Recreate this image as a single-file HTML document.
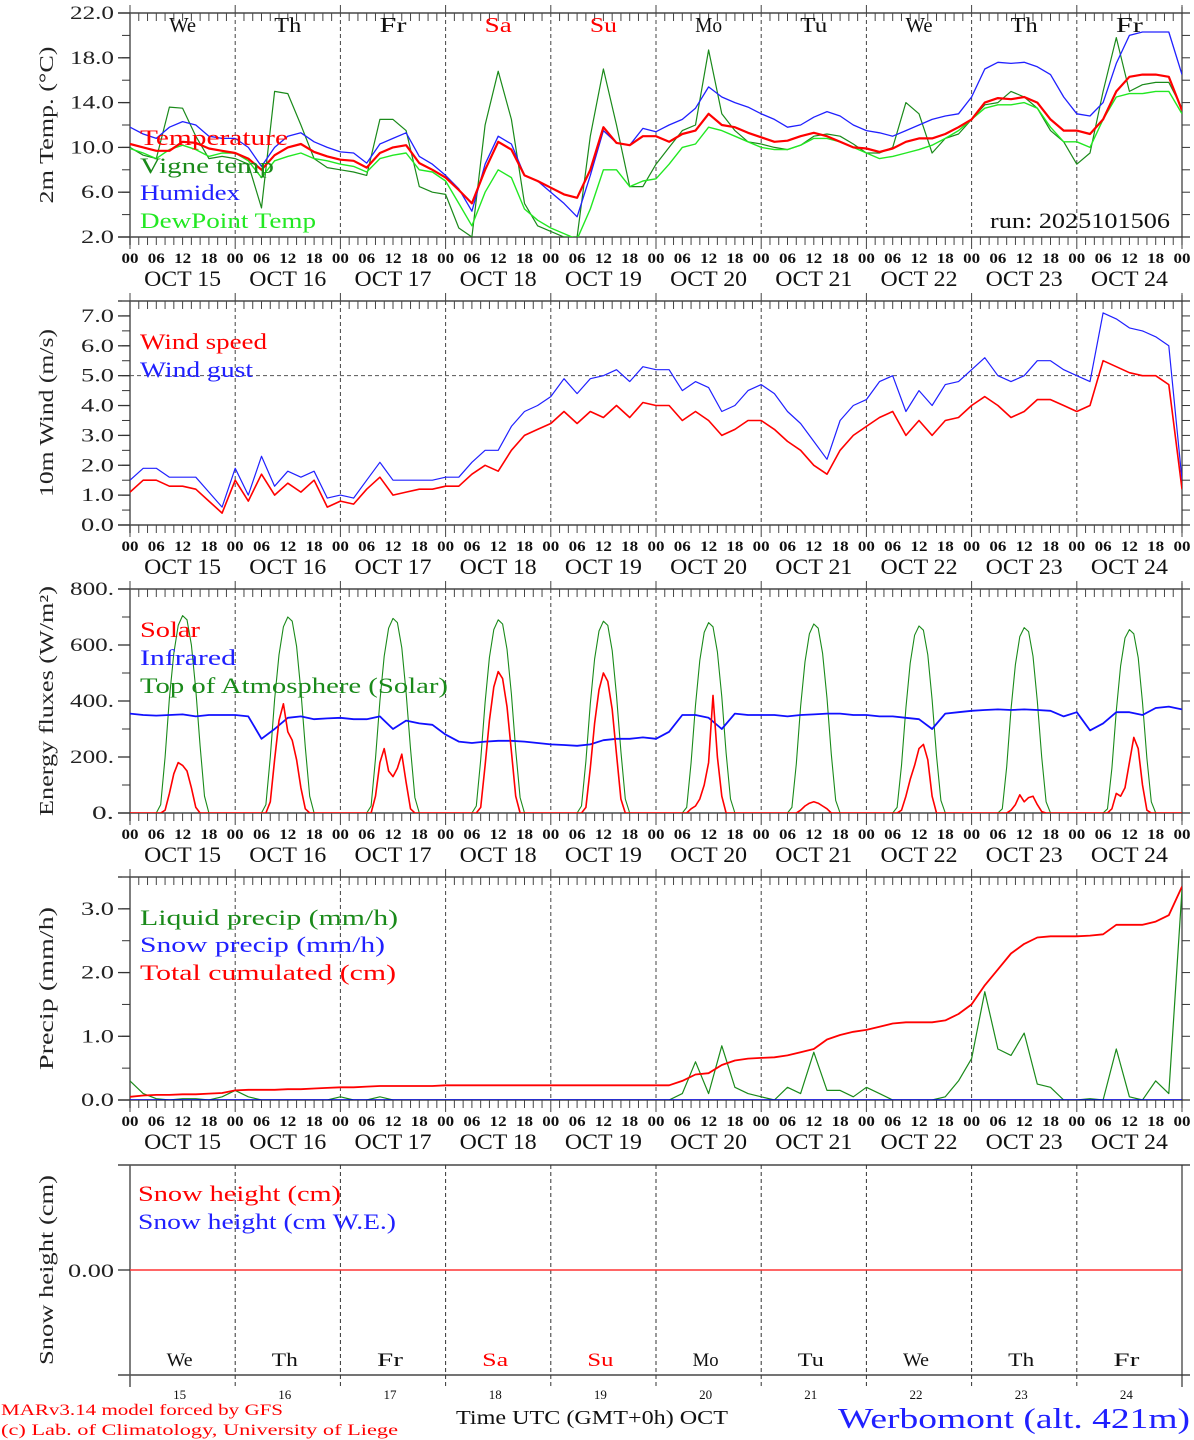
<!DOCTYPE html>
<html><head><meta charset="utf-8"><style>
html,body{margin:0;padding:0;background:#fff;}
svg{display:block;}
text{font-family:"Liberation Serif",serif;}
</style></head><body>
<svg id="chart" width="1194" height="1440" viewBox="0 0 1194 1440" xmlns="http://www.w3.org/2000/svg">
<defs>
<clipPath id="c1"><rect x="130" y="13" width="1052" height="224"/></clipPath>
<clipPath id="c2"><rect x="130" y="301" width="1052" height="224"/></clipPath>
<clipPath id="c3"><rect x="130" y="589" width="1052" height="224"/></clipPath>
<clipPath id="c4"><rect x="130" y="877" width="1052" height="223"/></clipPath>
</defs>
<g id="axes"></g>
<g id="marks"></g>
<g id="texts"></g>
</svg>
<script>
// ---- data (3-hourly from Oct 15 00 UTC, 81 points) ----
const days = ["15","16","17","18","19","20","21","22","23","24"];
const dayNames = ["We","Th","Fr","Sa","Su","Mo","Tu","We","Th","Fr"];
const temperature = [10.3,10.0,9.7,9.7,10.5,10.4,9.9,9.7, 9.5,9.0,8.0,9.3,10.0,10.3,9.6,9.2, 8.9,8.8,8.2,9.5,10.0,10.2,8.6,8.0, 7.3,6.2,5.0,8.0,10.5,9.8,7.5,7.0, 6.4,5.8,5.5,8.0,11.8,10.4,10.2,11.0, 11.0,10.5,11.2,11.5,13.0,12.0,11.8,11.3, 10.9,10.5,10.6,11.0,11.3,11.0,10.5,10.0, 9.9,9.6,9.9,10.5,10.8,10.8,11.2,11.8, 12.5,14.0,14.4,14.3,14.5,14.0,12.5,11.5, 11.5,11.2,12.5,15.0,16.3,16.5,16.5,16.3,13.3];
const vigneTemp = [10.0,9.3,9.0,13.6,13.5,11.0,9.0,9.2, 9.0,8.5,4.6,15.0,14.8,12.0,9.0,8.2, 8.0,7.8,7.5,12.5,12.5,11.5,6.5,6.0, 5.8,2.8,2.0,12.0,16.8,12.5,5.0,3.0, 2.5,2.0,2.0,11.0,17.0,12.0,6.5,6.5, 8.5,10.0,11.5,12.0,18.7,13.0,11.5,10.5, 10.3,10.0,9.8,10.2,11.0,11.2,11.0,10.3, 9.5,9.5,10.0,14.0,13.0,9.5,10.8,11.2, 12.5,13.8,14.0,15.0,14.5,13.5,11.5,10.5, 8.5,9.5,15.0,19.8,15.0,15.6,15.8,15.8,13.5];
const humidex = [11.8,11.2,10.8,11.8,12.3,12.0,11.0,10.8, 10.8,10.0,8.3,10.0,11.0,11.3,10.5,10.0, 9.6,9.5,8.6,10.3,10.8,11.3,9.2,8.5, 7.5,6.3,4.3,8.5,11.0,10.3,7.5,7.0, 6.0,5.0,3.8,7.5,11.5,10.4,10.2,11.7, 11.4,12.0,12.5,13.5,15.4,14.5,14.0,13.6, 13.0,12.5,11.8,12.0,12.7,13.2,12.8,12.0, 11.5,11.3,11.0,11.5,12.0,12.5,12.8,13.0, 14.5,17.0,17.6,17.5,17.6,17.2,16.5,14.5, 13.0,12.8,14.0,17.5,20.0,20.3,20.3,20.3,16.5];
const dewPoint = [9.9,9.5,9.0,9.8,10.2,9.8,9.2,9.5, 9.5,8.8,7.3,8.8,9.2,9.5,9.0,8.8, 8.5,8.3,7.8,9.0,9.3,9.5,8.0,7.8, 7.0,5.0,3.0,6.0,8.0,7.3,4.5,3.5, 2.8,2.3,1.8,4.5,8.0,8.0,6.5,7.0, 7.2,8.5,10.0,10.3,11.8,11.5,11.0,10.5, 10.0,9.8,9.8,10.2,10.8,10.8,10.5,10.0, 9.5,9.0,9.2,9.5,9.8,10.2,10.8,11.5, 12.5,13.5,13.8,13.8,14.0,13.5,11.8,10.5, 10.5,10.0,12.5,14.5,14.8,14.8,15.0,15.0,13.0];
const windSpeed = [1.1,1.5,1.5,1.3,1.3,1.2,0.8,0.4, 1.5,0.8,1.7,1.0,1.4,1.1,1.5,0.6, 0.8,0.7,1.2,1.6,1.0,1.1,1.2,1.2, 1.3,1.3,1.7,2.0,1.8,2.5,3.0,3.2, 3.4,3.8,3.4,3.8,3.6,4.0,3.6,4.1, 4.0,4.0,3.5,3.8,3.5,3.0,3.2,3.5, 3.5,3.2,2.8,2.5,2.0,1.7,2.5,3.0, 3.3,3.6,3.8,3.0,3.5,3.0,3.5,3.6, 4.0,4.3,4.0,3.6,3.8,4.2,4.2,4.0, 3.8,4.0,5.5,5.3,5.1,5.0,5.0,4.7,1.2];
const windGust = [1.5,1.9,1.9,1.6,1.6,1.6,1.1,0.6, 1.9,1.0,2.3,1.3,1.8,1.6,1.8,0.9, 1.0,0.9,1.5,2.1,1.5,1.5,1.5,1.5, 1.6,1.6,2.1,2.5,2.5,3.3,3.8,4.0, 4.3,4.9,4.4,4.9,5.0,5.2,4.8,5.3, 5.2,5.2,4.5,4.8,4.6,3.8,4.0,4.5, 4.7,4.4,3.8,3.4,2.8,2.2,3.5,4.0, 4.2,4.8,5.0,3.8,4.5,4.0,4.7,4.8, 5.2,5.6,5.0,4.8,5.0,5.5,5.5,5.2, 5.0,4.8,7.1,6.9,6.6,6.5,6.3,6.0,1.5];
const infrared = [355,350,348,350,352,345,350,350, 350,345,265,300,340,345,335,338, 340,335,335,345,300,330,320,315, 280,255,250,255,258,258,255,250, 245,243,240,245,260,265,265,270, 265,290,350,350,340,300,355,350, 350,350,345,350,352,355,355,350, 350,345,345,340,335,300,355,360, 365,368,370,368,370,368,365,345, 360,295,320,360,360,350,375,380,370];
const liquidPrecip = [0.3,0.1,0.02,0,0.02,0.02,0,0.05, 0.15,0.05,0,0,0,0,0,0, 0.05,0,0,0.05,0,0,0,0, 0,0,0,0,0,0,0,0, 0,0,0,0,0,0,0,0, 0,0,0.1,0.6,0.1,0.85,0.2,0.1, 0.05,0,0.2,0.1,0.75,0.15,0.15,0.05, 0.2,0.1,0,0,0,0,0.05,0.3, 0.65,1.7,0.8,0.7,1.05,0.25,0.2,0, 0,0.02,0,0.8,0.05,0,0.3,0.1,3.3];
const snowPrecip = [0,0,0,0,0,0,0,0,0,0,0,0,0,0,0,0,0,0,0,0,0,0,0,0,0,0,0,0,0,0,0,0,0,0,0,0,0,0,0,0,0,0,0,0,0,0,0,0,0,0,0,0,0,0,0,0,0,0,0,0,0,0,0,0,0,0,0,0,0,0,0,0,0,0,0,0,0,0,0,0,0];
const totalCumulated = [0.05,0.07,0.08,0.08,0.09,0.09,0.1,0.11, 0.15,0.16,0.16,0.16,0.17,0.17,0.18,0.19, 0.2,0.2,0.21,0.22,0.22,0.22,0.22,0.22, 0.23,0.23,0.23,0.23,0.23,0.23,0.23,0.23, 0.23,0.23,0.23,0.23,0.23,0.23,0.23,0.23, 0.23,0.23,0.3,0.4,0.42,0.55,0.62,0.65, 0.66,0.67,0.7,0.75,0.8,0.95,1.02,1.07, 1.1,1.15,1.2,1.22,1.22,1.22,1.25,1.35, 1.5,1.8,2.05,2.3,2.45,2.55,2.57,2.57, 2.57,2.58,2.6,2.75,2.75,2.75,2.8,2.9,3.35];
const snowHeight = [0,0,0,0,0,0,0,0,0,0,0,0,0,0,0,0,0,0,0,0,0,0,0,0,0,0,0,0,0,0,0,0,0,0,0,0,0,0,0,0,0,0,0,0,0,0,0,0,0,0,0,0,0,0,0,0,0,0,0,0,0,0,0,0,0,0,0,0,0,0,0,0,0,0,0,0,0,0,0,0,0];
// hourly fluxes (one row per day, 24 values)
const toaSolar = [
[0,0,0,0,0,0,0,30,200,410,570,670,705,690,600,440,240,60,0,0,0,0,0,0],
[0,0,0,0,0,0,0,30,200,405,565,665,700,685,595,435,235,60,0,0,0,0,0,0],
[0,0,0,0,0,0,0,25,195,400,560,660,695,680,590,430,230,55,0,0,0,0,0,0],
[0,0,0,0,0,0,0,25,190,395,555,655,690,675,585,425,225,55,0,0,0,0,0,0],
[0,0,0,0,0,0,0,25,185,390,550,650,685,670,580,420,220,50,0,0,0,0,0,0],
[0,0,0,0,0,0,0,20,180,385,545,645,680,665,575,415,215,50,0,0,0,0,0,0],
[0,0,0,0,0,0,0,20,175,380,540,640,675,660,570,410,210,45,0,0,0,0,0,0],
[0,0,0,0,0,0,0,20,170,375,535,635,668,653,565,405,205,45,0,0,0,0,0,0],
[0,0,0,0,0,0,0,15,165,370,530,630,662,648,560,400,200,40,0,0,0,0,0,0],
[0,0,0,0,0,0,0,15,160,365,525,625,655,640,555,395,195,40,0,0,0,0,0,0]];
const solar = [
[0,0,0,0,0,0,0,0,10,70,140,180,170,150,90,20,0,0,0,0,0,0,0,0],
[0,0,0,0,0,0,0,0,40,190,330,390,290,260,190,90,15,0,0,0,0,0,0,0],
[0,0,0,0,0,0,0,0,60,180,230,150,130,160,210,110,15,0,0,0,0,0,0,0],
[0,0,0,0,0,0,0,0,20,170,330,450,505,480,380,220,60,0,0,0,0,0,0,0],
[0,0,0,0,0,0,0,0,20,160,320,440,500,470,370,210,50,0,0,0,0,0,0,0],
[0,0,0,0,0,0,0,0,15,25,50,100,180,420,200,60,0,0,0,0,0,0,0,0],
[0,0,0,0,0,0,0,0,0,10,25,35,40,35,25,15,0,0,0,0,0,0,0,0],
[0,0,0,0,0,0,0,0,10,60,120,170,230,245,190,60,0,0,0,0,0,0,0,0],
[0,0,0,0,0,0,0,0,0,10,30,65,40,55,60,30,5,0,0,0,0,0,0,0],
[0,0,0,0,0,0,0,0,15,70,60,90,180,270,230,100,10,0,0,0,0,0,0,0]];
// ---- helpers ----
const NS="http://www.w3.org/2000/svg";
const X0=130, X1=1182, HOURS=240;
function xh(h){return X0+h*(X1-X0)/HOURS;}
function mk(tag,attrs,parent){const e=document.createElementNS(NS,tag);for(const k in attrs)e.setAttribute(k,attrs[k]);parent.appendChild(e);return e;}
const axes=document.getElementById('axes'), marks=document.getElementById('marks'), texts=document.getElementById('texts');
function txt(s,x,y,size,fill,parent,extra){const t=mk('text',Object.assign({x:x,y:y,'font-size':size,fill:fill},extra||{}),parent);t.textContent=s;return t;}
function ymap(top,bot,vmin,vmax){return v=>bot-(v-vmin)*(bot-top)/(vmax-vmin);}
const FIT={lengthAdjust:'spacingAndGlyphs'};

const panels=[
 {top:13,bot:237,min:2,max:22,major:[2,6,10,14,18,22],minor:2,fmt:v=>v.toFixed(1),title:"2m Temp. (\u00B0C)",tlen:157,clip:"c1",name:"temperature-panel"},
 {top:301,bot:525,min:0,max:7.5,major:[0,1,2,3,4,5,6,7],minor:0.5,fmt:v=>v.toFixed(1),title:"10m Wind (m/s)",tlen:168,clip:"c2",name:"wind-panel"},
 {top:589,bot:813,min:0,max:800,major:[0,200,400,600,800],minor:100,fmt:v=>v.toFixed(0)+".",title:"Energy fluxes (W/m\u00B2)",tlen:230,clip:"c3",name:"energy-panel"},
 {top:877,bot:1100,min:0,max:3.5,major:[0,1,2,3],minor:0.5,fmt:v=>v.toFixed(1),title:"Precip (mm/h)",tlen:163,clip:"c4",name:"precip-panel"}
];
panels.forEach((p,pi)=>{
  const g=mk('g',{},axes);
  
  
  const y=ymap(p.top,p.bot,p.min,p.max);
  mk('line',{x1:118,y1:p.top,x2:X1+8,y2:p.top,stroke:'#222','stroke-width':1.3},g);
  mk('line',{x1:118,y1:p.bot,x2:X1+8,y2:p.bot,stroke:'#222','stroke-width':1.3},g);
  mk('line',{x1:X0,y1:p.top,x2:X0,y2:p.bot+8,stroke:'#555','stroke-width':1.5},g);
  mk('line',{x1:X1,y1:p.top-6,x2:X1,y2:p.bot+8,stroke:'#333','stroke-width':1.2},g);
  for(let h=0;h<=HOURS;h+=2){
    const x=xh(h), big=h%24===0;
    mk('line',{x1:x,y1:p.top,x2:x,y2:p.top+(big?-8:8),stroke:'#444','stroke-width':1},g);
    mk('line',{x1:x,y1:p.bot,x2:x,y2:p.bot+(big?12:8),stroke:'#444','stroke-width':1},g);
    if(big&&h>0&&h<HOURS) mk('line',{x1:x,y1:p.top,x2:x,y2:p.bot,stroke:'#444','stroke-width':1,'stroke-dasharray':'4,3'},g);
  }
  for(let v=p.min;v<=p.max+1e-9;v+=p.minor){
    mk('line',{x1:122,y1:y(v),x2:X0,y2:y(v),stroke:'#333','stroke-width':1},g);
    mk('line',{x1:X1,y1:y(v),x2:X1+8,y2:y(v),stroke:'#333','stroke-width':1},g);
  }
  p.major.forEach(v=>{
    mk('line',{x1:118,y1:y(v),x2:X0,y2:y(v),stroke:'#333','stroke-width':1.3},g);
    const s=p.fmt(v);
    const t=txt(s,114,y(v)+6,19,'#222',texts,Object.assign({'text-anchor':'end',textLength:s.length*11},FIT));
    
    
  });
  const mid=(p.top+p.bot)/2;
  const tt=txt(p.title,0,0,20,'#222',texts,Object.assign({'text-anchor':'middle',transform:`translate(53,${mid}) rotate(-90)`,textLength:p.tlen},FIT));
  
  
  for(let d=0;d<10;d++){
    [0,6,12,18].forEach(hh=>{
      const l=txt(String(hh).padStart(2,'0'),xh(d*24+hh),p.bot+26,15,'#111',texts,Object.assign({'text-anchor':'middle','font-weight':'bold',textLength:17},FIT));
      
      
    });
    const dl=txt("OCT "+days[d],xh(d*24+12),p.bot+49,22,'#111',texts,Object.assign({'text-anchor':'middle',textLength:77},FIT));
    
    
  }
  const l0=txt("00",xh(240),p.bot+26,15,'#111',texts,Object.assign({'text-anchor':'middle','font-weight':'bold',textLength:17},FIT));
  
  
});
// day names in top panel
dayNames.forEach((n,d)=>{
  const c=(n==="Sa"||n==="Su")?'#f00':'#111';
  const t=txt(n,xh(d*24+12),32,21,c,texts,Object.assign({'text-anchor':'middle',textLength:27},FIT));
  
  
});
function series(arr,step,pi,color,w,name){
  const p=panels[pi], y=ymap(p.top,p.bot,p.min,p.max);
  const pts=arr.map((v,i)=>xh(i*step).toFixed(1)+","+y(v).toFixed(1)).join(" ");
  const e=mk('polyline',{points:pts,fill:'none',stroke:color,'stroke-width':w,'clip-path':`url(#${p.clip})`,'stroke-linejoin':'round'},marks);
  
  
}
series(vigneTemp,3,0,'#1a8a1a',1.2,'vigne-temp-line');
series(dewPoint,3,0,'#22e822',1.4,'dewpoint-line');
series(humidex,3,0,'#2020ff',1.3,'humidex-line');
series(temperature,3,0,'#f00',2.2,'temperature-line');
// wind
(function(){const p=panels[1],y=ymap(p.top,p.bot,p.min,p.max);
 const l=mk('line',{x1:X0,y1:y(5),x2:X1,y2:y(5),stroke:'#555','stroke-width':1,'stroke-dasharray':'4,3'},axes);
 
 })();
series(windGust,3,1,'#2020ff',1.2,'wind-gust-line');
series(windSpeed,3,1,'#f00',1.6,'wind-speed-line');
// energy
series(toaSolar.flat().concat([0]),1,2,'#1a8a1a',1.1,'toa-solar-line');
series(infrared,3,2,'#1010ff',1.8,'infrared-line');
series(solar.flat().concat([0]),1,2,'#f00',1.6,'solar-line');
// precip
series(liquidPrecip,3,3,'#1a8a1a',1.2,'liquid-precip-line');
series(snowPrecip,3,3,'#0000e0',1.6,'snow-precip-line');
series(totalCumulated,3,3,'#f00',1.8,'total-cumulated-line');
// snow panel
(function(){
  const g=mk('g',{},axes);
  
  
  const top=1165,bot=1375,y0=1270;
  mk('line',{x1:118,y1:top,x2:X1+8,y2:top,stroke:'#222','stroke-width':1.2},g);
  mk('line',{x1:118,y1:bot,x2:X1+8,y2:bot,stroke:'#222','stroke-width':1.2},g);
  mk('line',{x1:X0,y1:top,x2:X0,y2:bot+12,stroke:'#555','stroke-width':1.5},g);
  mk('line',{x1:X1,y1:top,x2:X1,y2:bot+12,stroke:'#333','stroke-width':1.2},g);
  mk('line',{x1:118,y1:y0,x2:X0,y2:y0,stroke:'#333','stroke-width':1.3},g);
  for(let d=1;d<10;d++){const x=xh(d*24);
    mk('line',{x1:x,y1:top,x2:x,y2:bot+12,stroke:'#333','stroke-width':1,'stroke-dasharray':'4,3'},g);}
  const yv=v=>y0-v*100;
  const pts=snowHeight.map((v,i)=>xh(i*3).toFixed(1)+","+yv(v).toFixed(1)).join(" ");
  const e=mk('polyline',{points:pts,fill:'none',stroke:'#f33','stroke-width':1.6},marks);
  
  
  const t=txt("0.00",114,y0+7,19,'#222',texts,Object.assign({'text-anchor':'end',textLength:46},FIT));
  
  
  const tt=txt("Snow height (cm)",0,0,20,'#222',texts,Object.assign({'text-anchor':'middle',transform:'translate(53,1270) rotate(-90)',textLength:190},FIT));
  
  
  dayNames.forEach((n,d)=>{
    const c=(n==="Sa"||n==="Su")?'#f00':'#111';
    const a=txt(n,xh(d*24+12)-3,1366,19,c,texts,Object.assign({'text-anchor':'middle',textLength:26},FIT));
    
    
    const b=txt(days[d],xh(d*24+12)-3,1399,13,'#111',texts,{'text-anchor':'middle'});
    
    
  });
})();
// legends
function leg(s,x,y,c,name,len){const t=txt(s,x,y,22,c,texts,{textLength:len,lengthAdjust:'spacingAndGlyphs'});
 
 }
leg("Temperature",140,145,'#f00','legend-temperature',148);
leg("Vigne temp",140,173,'#1a8a1a','legend-vigne-temp',134);
leg("Humidex",140,200,'#2020ff','legend-humidex',100);
leg("DewPoint Temp",140,228,'#22e822','legend-dewpoint',176);
leg("run: 2025101506",990,228,'#111','run-label',180);
leg("Wind speed",140,349,'#f00','legend-wind-speed',127);
leg("Wind gust",140,377,'#2020ff','legend-wind-gust',113);
leg("Solar",140,637,'#f00','legend-solar',60);
leg("Infrared",140,665,'#2020ff','legend-infrared',96);
leg("Top of Atmosphere (Solar)",140,693,'#1a8a1a','legend-toa',308);
leg("Liquid precip (mm/h)",140,925,'#1a8a1a','legend-liquid-precip',258);
leg("Snow precip (mm/h)",140,952,'#2020ff','legend-snow-precip',245);
leg("Total cumulated (cm)",140,980,'#f00','legend-total-cumulated',256);
leg("Snow height (cm)",138,1201,'#f00','legend-snow-height',203);
leg("Snow height (cm W.E.)",138,1229,'#2020ff','legend-snow-height-we',258);
// footer
function ft(s,x,y,size,c,name,len){const t=txt(s,x,y,size,c,texts,{textLength:len,lengthAdjust:'spacingAndGlyphs'});
 
 }
ft("MARv3.14 model forced by GFS",1,1415,16,'#f00','model-credit',282);
ft("(c) Lab. of Climatology, University of Liege",1,1435,16,'#f00','copyright',397);
ft("Time UTC (GMT+0h) OCT",456,1424,20,'#111','x-axis-title',272);
ft("Werbomont (alt. 421m)",838,1428,28,'#2020ff','station-title',352);
</script>
</body></html>
